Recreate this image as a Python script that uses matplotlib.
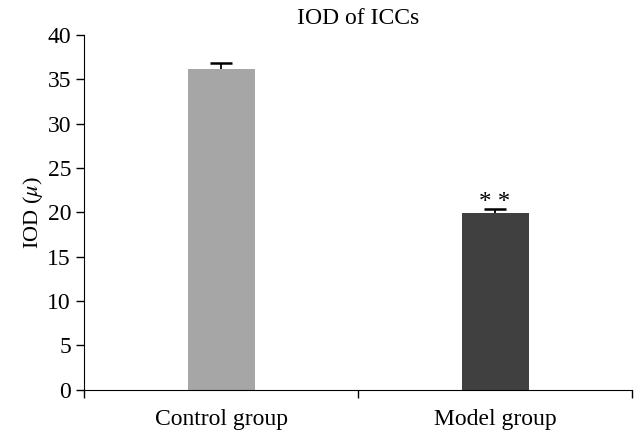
import numpy as np
import matplotlib
matplotlib.use("Agg")
import matplotlib.pyplot as plt

groups = ["Control group", "Model group"]
values = [36.2, 19.9]
errors = [0.7, 0.5]
colors = ["#a6a6a6", "#404040"]
yticks = [0, 5, 10, 15, 20, 25, 30, 35, 40]

plt.rcParams["font.family"] = ["Liberation Serif", "DejaVu Serif"]
plt.rcParams["mathtext.fontset"] = "stix"

fig = plt.figure(figsize=(6.43, 4.44), dpi=100)
ax = fig.add_axes([0.131, 0.122, 0.852, 0.799])

x = np.arange(len(groups))
ax.bar(x, values, width=0.245, color=colors, zorder=2)

# only the upper half of the error bars
tops = np.array(values) + np.array(errors)
ax.vlines(x, values, tops, color="black", lw=1.3, zorder=3)
ax.hlines(tops, x - 0.04, x + 0.04, color="black", lw=1.8, zorder=3)
ax.text(x[1], tops[1] - 0.6, "* *", ha="center", va="bottom", fontsize=18)

ax.set_xlim(-0.5, 1.5)
ax.set_ylim(0, 40)
ax.set_yticks(yticks)
ax.set_xticks(x)
ax.set_xticklabels(groups, fontsize=17)
ax.set_xticks([-0.5, 0.5, 1.5], minor=True)
ax.tick_params(axis="x", which="major", length=0, pad=14)
ax.tick_params(axis="x", which="minor", length=6, width=1)
ax.tick_params(axis="y", labelsize=17, length=6, width=1)
for s in ["top", "right"]:
    ax.spines[s].set_visible(False)
ax.set_ylabel(r"IOD ($\mu$)", fontsize=16, labelpad=2)
ax.set_title("IOD of ICCs", fontsize=17, pad=8)

fig.savefig("out.png", dpi=100)
